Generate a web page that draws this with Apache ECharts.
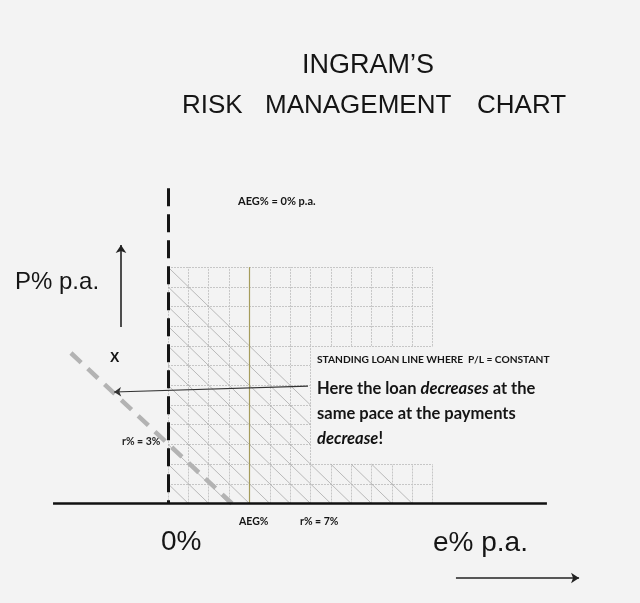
<!DOCTYPE html>
<html lang="en">

<head>
    <meta charset="UTF-8">
    <title>Ingram's Risk Management Chart</title>
    <script src="https://cdn.jsdelivr.net/npm/echarts@6/dist/echarts.min.js"></script>
    <style>
        html, body { margin: 0; padding: 0; background: #f3f3f3; }
    </style>
</head>

<body>
    <div id="main" style="width: 640px;height:603px;"></div>
    <script type="text/javascript">
        // diagram values, in grid cells (e% across, P% up)
        var gridBlocks = [[0, 13, 8, 12], [0, 7, 2, 8], [0, 13, 0, 2]]   // [x0, x1, y0, y1]
        var diagonalK = [1, 2, 3, 4, 5, 6, 7, 8, 9, 10, 11, 12]          // lines x + y = k
        var aegX = 4
        var zeroLine = [[0, 16], [0, 0]]
        var rate3Line = [[-4.77, 7.64], [3.14, 0]]
        var baseAxis = [[-5.65, 0], [18.62, 0]]
        var pArrow = [[-2.31, 8.96], [-2.31, 13.12]]
        var eArrow = [[14.15, -3.78], [20.2, -3.78]]
        var calloutArrow = [[6.88, 5.96], [-2.65, 5.66]]

        var gridSegs = []
        gridBlocks.forEach(function (b) {
            for (var x = b[0]; x <= b[1]; x++) gridSegs.push({ coords: [[x, b[2]], [x, b[3]]] })
            for (var y = b[2]; y <= b[3]; y++) gridSegs.push({ coords: [[b[0], y], [b[1], y]] })
        })

        // clip every diagonal to the blocks
        var diagSegs = []
        diagonalK.forEach(function (k) {
            gridBlocks.forEach(function (b) {
                var yLo = Math.max(b[2], k - b[1], 0)
                var yHi = Math.min(b[3], k - b[0])
                if (yHi > yLo) diagSegs.push({ coords: [[k - yHi, yHi], [k - yLo, yLo]] })
            })
        })

        var myChart = echarts.init(document.getElementById('main'))

        var seg = function (data, style, extra) {
            return Object.assign({
                type: 'lines',
                coordinateSystem: 'cartesian2d',
                silent: true,
                data: data,
                lineStyle: style
            }, extra || {})
        }

        var txt = function (x, y, text, size, opt) {
            opt = opt || {}
            return {
                type: 'text', x: x, y: y, silent: true,
                style: {
                    text: text,
                    fontSize: size,
                    fontFamily: opt.family || 'Liberation Sans',
                    fontWeight: opt.weight || 'normal',
                    fill: opt.color || '#151515',
                    align: 'left', verticalAlign: 'middle',
                    textAlign: 'left', textVerticalAlign: 'middle',
                    rich: opt.rich
                }
            }
        }

        var italic = { i: { fontStyle: 'italic', fontWeight: 'bold', fontSize: 16.5, fontFamily: 'Lato', fill: '#111' } }

        var option = {
            backgroundColor: '#f3f3f3',
            animation: false,
            grid: { left: 0, right: 0, top: 0, bottom: 0 },
            xAxis: { type: 'value', min: -8.256, max: 23.194, show: false },
            yAxis: { type: 'value', min: -5.051, max: 25.558, show: false },
            series: [
                seg(gridSegs, { color: '#c6c6c6', width: 1, type: [2, 1], opacity: 1 }),
                seg(diagSegs, { color: '#a9a9a9', width: 0.8, type: 'solid', opacity: 1 }),
                seg([{ coords: [[aegX, 0], [aegX, 12]] }], { color: '#a59c5c', width: 1.2, opacity: 1 }),
                seg([{ coords: zeroLine }], { color: '#151515', width: 3, type: [18, 8], opacity: 1 }),
                seg([{ coords: rate3Line }], { color: '#b3b3b3', width: 4.5, type: [14, 9], opacity: 1 }),
                seg([{ coords: baseAxis }], { color: '#111', width: 2.5, opacity: 1 }),
                seg([{ coords: pArrow }, { coords: eArrow }], { color: '#222', width: 1.6, opacity: 1 },
                    { symbol: ['none', 'arrow'], symbolSize: 8 }),
                seg([{ coords: calloutArrow }], { color: '#333', width: 1.2, opacity: 1 },
                    { symbol: ['none', 'arrow'], symbolSize: 7 })
            ],
            graphic: [
                txt(302, 66, 'INGRAM\u2019S', 27),
                txt(182, 106, 'RISK', 26),
                txt(265, 106, 'MANAGEMENT', 26),
                txt(477, 106, 'CHART', 26),
                txt(15, 282, 'P% p.a.', 24),
                txt(110, 358, 'X', 14, { weight: 'bold' }),
                txt(238, 201, 'AEG% = 0% p.a.', 11, { family: 'Lato', weight: 'bold' }),
                txt(317, 360, 'STANDING LOAN LINE WHERE  P/L = CONSTANT', 10.2, { family: 'Lato', weight: 'bold' }),
                txt(317, 389, 'Here the loan {i|decreases} at the', 16.5, { family: 'Lato', weight: 'bold', rich: italic }),
                txt(317, 414, 'same pace at the payments', 16.5, { family: 'Lato', weight: 'bold' }),
                txt(317, 439, '{i|decrease}!', 16.5, { family: 'Lato', weight: 'bold', rich: italic }),
                txt(122, 442, 'r% = 3%', 10.5, { family: 'Lato', weight: 'bold', color: '#222' }),
                txt(239, 522, 'AEG%', 10.5, { family: 'Lato', weight: 'bold' }),
                txt(300, 522, 'r% = 7%', 10.5, { family: 'Lato', weight: 'bold' }),
                txt(161, 542, '0%', 28),
                txt(433, 543, 'e% p.a.', 28)
            ]
        }

        myChart.setOption(option)
    </script>
</body>

</html>
